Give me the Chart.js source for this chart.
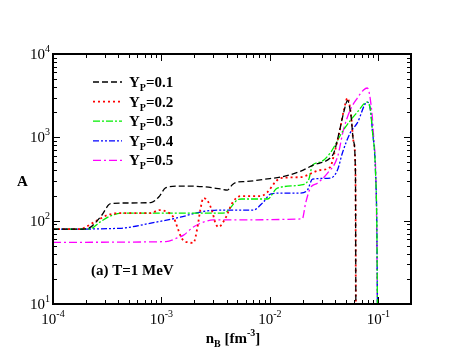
<!DOCTYPE html>
<html>
<head>
<meta charset="utf-8">
<script src="https://cdn.jsdelivr.net/npm/chart.js@4"></script>
<style>
  body { margin: 0; background: #fff; }
  canvas { display: block; }
</style>
</head>
<body>
<canvas id="chart" width="463" height="358"></canvas>
<script>
// data (n_B in fm^-3, A)
const nB_01 = [1e-4, 1.8e-4, 2.2e-4, 2.45e-4, 2.8e-4, 3.4e-4, 5e-4, 8e-4, 9.6e-4, 1.09e-3, 1.5e-3, 2.5e-3, 3.5e-3, 4.06e-3, 4.5e-3, 5e-3, 6e-3, 1e-2, 1.25e-2, 1.9e-2, 2.5e-2, 3.6e-2, 3.9e-2, 4.4e-2, 4.8e-2, 5.2e-2, 5.6e-2, 5.9e-2, 6.15e-2, 6.2e-2];
const A_01 = [79, 79, 83, 94, 115, 160, 163, 165, 197, 248, 260, 255, 240, 233, 270, 290, 295, 320, 333, 390, 464, 565, 660, 1220, 2010, 2750, 1800, 900, 380, 10];

const nB_02 = [1e-4, 1.8e-4, 2e-4, 2.6e-4, 3.2e-4, 4.1e-4, 7.9e-4, 9.6e-4, 1.13e-3, 1.29e-3, 1.4e-3, 1.49e-3, 1.59e-3, 1.77e-3, 1.97e-3, 2.14e-3, 2.28e-3, 2.44e-3, 2.71e-3, 2.95e-3, 3.14e-3, 3.35e-3, 3.89e-3, 4.5e-3, 5.34e-3, 8.17e-3, 9.5e-3, 1.12e-2, 1.25e-2, 1.9e-2, 2.92e-2, 3.6e-2, 3.9e-2, 4.4e-2, 4.8e-2, 5.2e-2, 5.6e-2, 5.9e-2, 6.15e-2, 6.2e-2];
const A_02 = [79, 79, 84, 102, 117, 123, 123, 134, 127, 110, 84, 67, 58, 55, 54, 81, 134, 187, 167, 127, 94, 84, 107, 163, 197, 197, 220, 290, 324, 333, 405, 440, 620, 1200, 2100, 2960, 1850, 900, 380, 10];

const nB_03 = [1e-4, 2.2e-4, 2.7e-4, 3.4e-4, 4.3e-4, 3.5e-3, 3.9e-3, 4.3e-3, 5e-3, 5.5e-3, 9.5e-3, 1.17e-2, 1.9e-2, 2.27e-2, 2.47e-2, 2.92e-2, 3.6e-2, 4.76e-2, 6.4e-2, 7.9e-2, 8.45e-2, 8.8e-2, 9.4e-2, 9.7e-2, 9.8e-2];
const A_03 = [79, 80, 96, 114, 123, 123, 125, 142, 177, 182, 182, 246, 267, 307, 464, 505, 649, 1220, 2010, 2650, 2130, 1220, 405, 70, 10];

const nB_04 = [1e-4, 4.1e-4, 8.2e-4, 1.49e-3, 2.28e-3, 3.5e-3, 7e-3, 8.7e-3, 1.01e-2, 1.25e-2, 1.9e-2, 2.22e-2, 2.47e-2, 3.6e-2, 4.2e-2, 4.66e-2, 5.5e-2, 6.4e-2, 7.9e-2, 8.45e-2, 8.8e-2, 9.4e-2, 9.7e-2, 9.8e-2];
const A_04 = [79, 81, 94, 110, 127, 134, 134, 167, 208, 214, 214, 233, 315, 324, 405, 649, 1130, 1490, 2650, 2130, 1220, 405, 70, 10];

const nB_05 = [1e-4, 1.1e-3, 1.4e-3, 1.6e-3, 1.97e-3, 2.44e-3, 3e-3, 1.99e-2, 2.13e-2, 2.36e-2, 2.74e-2, 3.4e-2, 4.2e-2, 4.76e-2, 5.5e-2, 6.4e-2, 7.3e-2, 7.9e-2, 8.45e-2, 9.0e-2, 9.6e-2, 9.8e-2];
const A_05 = [55, 56, 62, 67, 84, 96, 102, 105, 160, 246, 282, 372, 581, 1220, 2130, 2960, 3700, 3910, 2800, 1130, 150, 10];

const seriesLabels = ["0.1", "0.2", "0.3", "0.4", "0.5"];
const xTickValues = [1e-4, 1e-3, 1e-2, 1e-1];
const xTickExps = ["-4", "-3", "-2", "-1"];
const yTickValues = [10, 100, 1000, 10000];
const yTickExps = ["1", "2", "3", "4"];

const colors = ["#000000", "#ff0000", "#00ee00", "#0000ff", "#ff00ff"];
const dashes = [[6, 3], [2, 3], [7, 2, 2, 2], [6, 2, 2, 2, 2, 2], [8, 3, 2, 3]];
const widths = [1.3, 1.8, 1.3, 1.3, 1.3];

const serif = "'Liberation Serif', 'DejaVu Serif', serif";

function pts(xs, ys) {
  return xs.map((x, i) => ({ x: x, y: ys[i] }));
}

const allData = [pts(nB_01, A_01), pts(nB_02, A_02), pts(nB_03, A_03), pts(nB_04, A_04), pts(nB_05, A_05)];

// text with sub/superscript pieces: [text, size, dy, weight]
function drawPieces(ctx, pieces, x, y, align) {
  const fontOf = p => (p[3] === "normal" ? "" : "bold ") + p[1] + "px " + serif;
  let total = 0;
  pieces.forEach(p => {
    ctx.font = fontOf(p);
    total += ctx.measureText(p[0]).width;
  });
  let cx = x;
  if (align === "center") cx = x - total / 2;
  if (align === "right") cx = x - total;
  pieces.forEach(p => {
    ctx.font = fontOf(p);
    ctx.fillText(p[0], cx, y + p[2]);
    cx += ctx.measureText(p[0]).width;
  });
}

const decorations = {
  id: "decorations",
  afterDraw(chart) {
    const ctx = chart.ctx;
    const a = chart.chartArea;
    const xs = chart.scales.x;
    const ys = chart.scales.y;
    ctx.save();
    ctx.fillStyle = "#000";
    ctx.strokeStyle = "#000";
    ctx.textBaseline = "alphabetic";
    ctx.textAlign = "left";

    // ticks, inward on all four sides
    ctx.lineWidth = 1;
    ctx.beginPath();
    for (let d = -4; d <= -1; d++) {
      for (let m = 1; m <= 9; m++) {
        const v = m * Math.pow(10, d);
        if (v > xs.max * 1.0001) continue;
        const px = Math.round(xs.getPixelForValue(v)) + 0.5;
        const len = m === 1 ? 7 : 4;
        ctx.moveTo(px, a.bottom); ctx.lineTo(px, a.bottom - len);
        ctx.moveTo(px, a.top); ctx.lineTo(px, a.top + len);
      }
    }
    for (let d = 1; d <= 4; d++) {
      for (let m = 1; m <= 9; m++) {
        const v = m * Math.pow(10, d);
        if (v > ys.max * 1.0001) continue;
        const py = Math.round(ys.getPixelForValue(v)) + 0.5;
        const len = m === 1 ? 7 : 4;
        ctx.moveTo(a.left, py); ctx.lineTo(a.left + len, py);
        ctx.moveTo(a.right, py); ctx.lineTo(a.right - len, py);
      }
    }
    ctx.stroke();

    // frame
    ctx.lineWidth = 2;
    ctx.strokeRect(a.left, a.top, a.right - a.left, a.bottom - a.top);

    // tick labels
    xTickValues.forEach((v, i) => {
      const px = xs.getPixelForValue(v);
      drawPieces(ctx, [["10", 15, 0, "normal"], [xTickExps[i], 10, -7, "normal"]], px, a.bottom + 20, "center");
    });
    yTickValues.forEach((v, i) => {
      const py = ys.getPixelForValue(v);
      drawPieces(ctx, [["10", 15, 0, "normal"], [yTickExps[i], 10, -7, "normal"]], a.left - 3, py + 5, "right");
    });

    // axis titles
    drawPieces(ctx, [["n", 15, 0], ["B", 10, 4], [" [fm", 15, 0], ["-3", 10, -7], ["]", 15, 0]], 233, 343, "center");
    ctx.font = "bold 15px " + serif;
    ctx.fillText("A", 17, 186);

    // legend
    seriesLabels.forEach((lab, i) => {
      const row = 82 + i * 19.6;
      ctx.save();
      ctx.strokeStyle = colors[i];
      ctx.lineWidth = widths[i];
      ctx.setLineDash(dashes[i]);
      ctx.beginPath();
      ctx.moveTo(93, row);
      ctx.lineTo(122, row);
      ctx.stroke();
      ctx.restore();
      drawPieces(ctx, [["Y", 15, 0], ["P", 10, 4], ["=" + lab, 15, 0]], 129, row + 5, "left");
    });

    // panel note
    ctx.font = "bold 15px " + serif;
    ctx.fillText("(a) T=1 MeV", 91, 275);
    ctx.restore();
  }
};

new Chart(document.getElementById("chart"), {
  type: "line",
  data: {
    datasets: allData.map((d, i) => ({
      label: "Yp=" + seriesLabels[i],
      data: d,
      borderColor: colors[i],
      borderWidth: widths[i],
      borderDash: dashes[i],
      pointRadius: 0,
      fill: false,
      cubicInterpolationMode: "monotone",
      clip: 0
    }))
  },
  options: {
    responsive: false,
    animation: false,
    layout: { padding: { left: 53, right: 52, top: 54, bottom: 54 } },
    plugins: { legend: { display: false }, tooltip: { enabled: false } },
    scales: {
      x: { type: "logarithmic", min: 1e-4, max: 0.2, display: false },
      y: { type: "logarithmic", min: 10, max: 10000, display: false }
    }
  },
  plugins: [decorations]
});
</script>
</body>
</html>
